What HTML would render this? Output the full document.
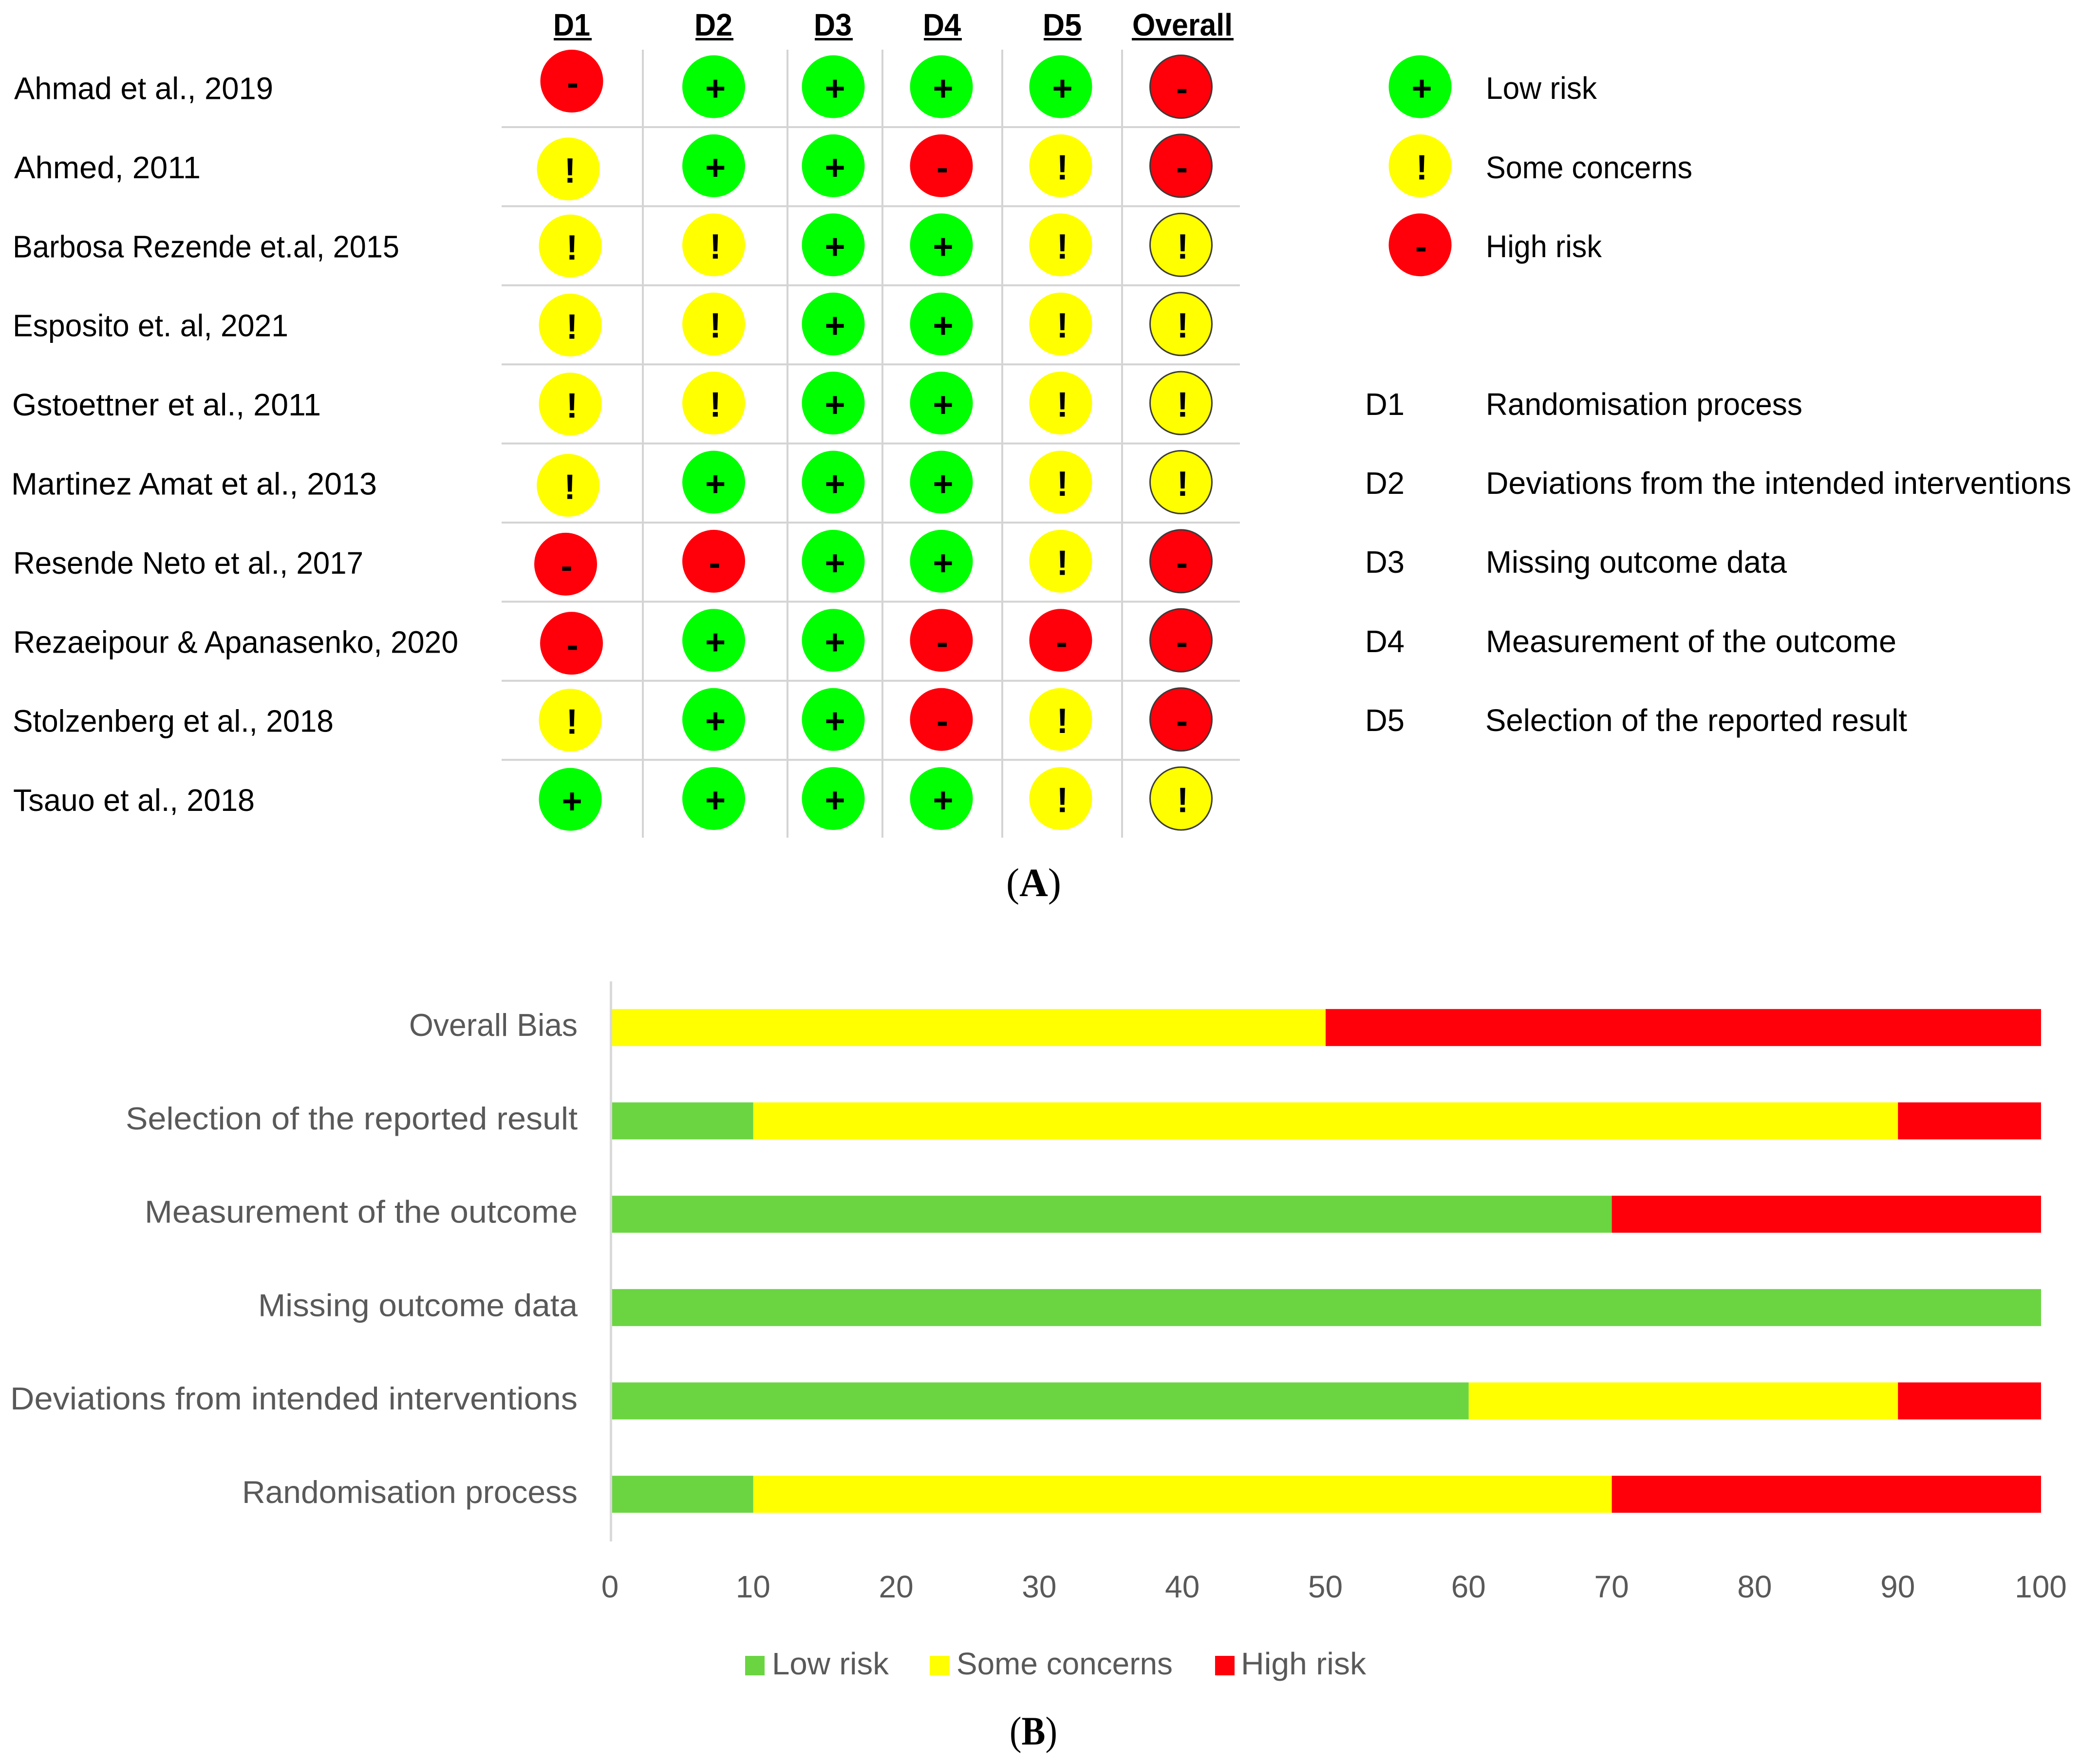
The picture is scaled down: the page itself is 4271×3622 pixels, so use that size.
<!DOCTYPE html>
<html lang="en">
<head>
<meta charset="utf-8">
<title>Risk of bias summary</title>
<style>
html,body{margin:0;padding:0;background:#fff;}
svg{display:block;font-family:"Liberation Sans",sans-serif;}
</style>
</head>
<body>
<svg id="figure" xmlns="http://www.w3.org/2000/svg" width="4271" height="3622" viewBox="0 0 4271 3622">
  <rect x="0" y="0" width="4271" height="3622" fill="#ffffff"/>
  <g id="panel-a">
    <g id="grid"></g>
    <g font-weight="700" font-size="64" fill="#000">
      <text x="1136" y="73" textLength="76" lengthAdjust="spacingAndGlyphs">D1</text>
      <rect x="1137" y="78" width="78" height="5"/>
      <text x="1426" y="73" textLength="78" lengthAdjust="spacingAndGlyphs">D2</text>
      <rect x="1428" y="78" width="78" height="5"/>
      <text x="1671" y="73" textLength="78" lengthAdjust="spacingAndGlyphs">D3</text>
      <rect x="1673" y="78" width="78" height="5"/>
      <text x="1895" y="73" textLength="78" lengthAdjust="spacingAndGlyphs">D4</text>
      <rect x="1897" y="78" width="78" height="5"/>
      <text x="2141" y="73" textLength="80" lengthAdjust="spacingAndGlyphs">D5</text>
      <rect x="2143" y="78" width="78" height="5"/>
      <text x="2325" y="73" textLength="206" lengthAdjust="spacingAndGlyphs">Overall</text>
      <rect x="2324" y="78" width="209" height="5"/>
    </g>
    <g id="study-labels"></g>
    <g id="cells"></g>
    <g id="key-symbols"></g>
    <g font-size="64" fill="#000">
      <text x="3051" y="203" textLength="228" lengthAdjust="spacingAndGlyphs">Low risk</text>
      <text x="3051" y="366" textLength="424" lengthAdjust="spacingAndGlyphs">Some concerns</text>
      <text x="3051" y="528" textLength="238" lengthAdjust="spacingAndGlyphs">High risk</text>
    </g>
    <g font-size="64" fill="#000">
      <text x="2803" y="852" textLength="81" lengthAdjust="spacingAndGlyphs">D1</text>
      <text x="3051" y="852" textLength="650" lengthAdjust="spacingAndGlyphs">Randomisation process</text>
      <text x="2803" y="1014" textLength="81" lengthAdjust="spacingAndGlyphs">D2</text>
      <text x="3051" y="1014" textLength="1202" lengthAdjust="spacingAndGlyphs">Deviations from the intended interventions</text>
      <text x="2803" y="1176" textLength="81" lengthAdjust="spacingAndGlyphs">D3</text>
      <text x="3051" y="1176" textLength="618" lengthAdjust="spacingAndGlyphs">Missing outcome data</text>
      <text x="2803" y="1339" textLength="81" lengthAdjust="spacingAndGlyphs">D4</text>
      <text x="3051" y="1339" textLength="843" lengthAdjust="spacingAndGlyphs">Measurement of the outcome</text>
      <text x="2803" y="1501" textLength="81" lengthAdjust="spacingAndGlyphs">D5</text>
      <text x="3050" y="1501" textLength="866" lengthAdjust="spacingAndGlyphs">Selection of the reported result</text>
    </g>
    <text x="2066" y="1840" font-family="'Liberation Serif',serif" font-size="83" fill="#000" textLength="113" lengthAdjust="spacingAndGlyphs">(<tspan font-weight="700">A</tspan>)</text>
  </g>
  <g id="panel-b">
    <g id="bars"></g>
    <rect id="y-axis" x="1252" y="2015" width="5" height="1150" fill="#d9d9d9"/>
    <g id="category-labels"></g>
    <g id="tick-labels"></g>
    <g font-size="64" fill="#595959">
      <rect x="1530" y="3400" width="40" height="40" fill="#6bd541"/>
      <text x="1585" y="3438" textLength="240" lengthAdjust="spacingAndGlyphs">Low risk</text>
      <rect x="1909" y="3400" width="41" height="40" fill="#ffff00"/>
      <text x="1964" y="3438" textLength="444" lengthAdjust="spacingAndGlyphs">Some concerns</text>
      <rect x="2495" y="3400" width="40" height="40" fill="#ff000a"/>
      <text x="2548" y="3438" textLength="257" lengthAdjust="spacingAndGlyphs">High risk</text>
    </g>
    <text x="2073" y="3582" font-family="'Liberation Serif',serif" font-size="83" fill="#000" textLength="98" lengthAdjust="spacingAndGlyphs">(<tspan font-weight="700">B</tspan>)</text>
  </g>
</svg>
<script>
// ---- Panel A data ----
const studies = ["Ahmad et al., 2019","Ahmed, 2011","Barbosa Rezende et.al, 2015","Esposito et. al, 2021","Gstoettner et al., 2011","Martinez Amat et al., 2013","Resende Neto et al., 2017","Rezaeipour & Apanasenko, 2020","Stolzenberg et al., 2018","Tsauo et al., 2018"];
const d1Judgements = ["high","some","some","some","some","some","high","high","some","low"];
const d2Judgements = ["low","low","some","some","some","low","high","low","low","low"];
const d3Judgements = ["low","low","low","low","low","low","low","low","low","low"];
const d4Judgements = ["low","high","low","low","low","low","low","high","high","low"];
const d5Judgements = ["low","some","some","some","some","some","some","high","some","some"];
const overallJudgements = ["high","high","some","some","some","some","high","high","high","some"];
const keyJudgements = ["low","some","high"];

// ---- Panel B data ----
const categories = ["Overall Bias","Selection of the reported result","Measurement of the outcome","Missing outcome data","Deviations from intended interventions","Randomisation process"];
const lowRisk = [0,10,70,100,60,10];
const someConcerns = [50,80,0,0,30,60];
const highRisk = [50,10,30,0,10,30];
const xTicks = [0,10,20,30,40,50,60,70,80,90,100];

// ---- Layout (not data) ----
const SVGNS = "http://www.w3.org/2000/svg";
const rowY = i => 178 + 162.4 * i;
const columnX = {d2:1465.5, d3:1711, d4:1933, d5:2178, overall:2425};
const d1Nudge = {
  x:[1174,1167,1171,1171,1171,1166.6,1161.5,1173.5,1171,1171],
  y:[-11.5,6.5,2.2,2.2,2,6.5,6,6,1.5,1.7]
};
const studyLabelStart = [29,29,26,26,25,23,27,27,26,27];
const studyLabelEnd = [561,412,820,592,659,774,746,941,685,523];
const categoryLabelStart = [840,258,297,530,21,497];
const fillFor = {low:"#00ff00", some:"#ffff00", high:"#ff000a"};
const glyphFor = {low:"+", some:"!", high:"-"};
const barColor = {low:"#6bd541", some:"#ffff00", high:"#ff000a"};
const xScale = v => 1253 + v * 29.38;
const bandTop = 2014, bandH = 1150 / 6, barH = 76;

function make(tag, attrs, parent){
  const el = document.createElementNS(SVGNS, tag);
  for (const k in attrs) el.setAttribute(k, attrs[k]);
  parent.appendChild(el);
  return el;
}

function drawSymbol(parent, cx, cy, judgement, outlined, name){
  const g = make("g", {}, parent);
  
  
  const c = make("ellipse", {cx:cx, cy:cy, rx:outlined ? 63.5 : 64.5, ry:outlined ? 64.5 : 64.5, fill:fillFor[judgement]}, g);
  
  
  if (outlined){
    c.setAttribute("stroke", "#3a3a3a");
    c.setAttribute("stroke-width", "3");
  }
  const t = make("text", {x:cx + (judgement === "high" ? 2 : 3.5), y:cy + 28, "text-anchor":"middle", "font-size":72, "font-weight":700, fill:"#000"}, g);
  t.textContent = glyphFor[judgement];
  
  
}

// grid lines
const grid = document.getElementById("grid");
[1320,1617,1812,2058,2304].forEach((x, i) => {
  const l = make("rect", {x:x - 2, y:102, width:4, height:1618, fill:"#d4d4d4"}, grid);
  
  
});
for (let i = 0; i < studies.length - 1; i++){
  const l = make("rect", {x:1030, y:261 + 162.4 * i - 2, width:1516, height:4, fill:"#d4d4d4"}, grid);
  
  
}

// study labels
const studyGroup = document.getElementById("study-labels");
studies.forEach((s, i) => {
  const t = make("text", {x:studyLabelStart[i], y:203.5 + 162.4 * i, "font-size":64, fill:"#000", textLength:studyLabelEnd[i] - studyLabelStart[i], lengthAdjust:"spacingAndGlyphs"}, studyGroup);
  t.textContent = s;
  
  
});

// judgement cells
const cells = document.getElementById("cells");
studies.forEach((s, i) => {
  drawSymbol(cells, d1Nudge.x[i], rowY(i) + d1Nudge.y[i], d1Judgements[i], false, 'cell-d1');
  drawSymbol(cells, columnX.d2, rowY(i), d2Judgements[i], false, 'cell-d2');
  drawSymbol(cells, columnX.d3, rowY(i), d3Judgements[i], false, 'cell-d3');
  drawSymbol(cells, columnX.d4, rowY(i), d4Judgements[i], false, 'cell-d4');
  drawSymbol(cells, columnX.d5, rowY(i), d5Judgements[i], false, 'cell-d5');
  drawSymbol(cells, columnX.overall, rowY(i), overallJudgements[i], true, 'cell-overall');
});

// key symbols
const keyGroup = document.getElementById("key-symbols");
keyJudgements.forEach((j, i) => {
  drawSymbol(keyGroup, 2916, rowY(i), j, false, 'key-symbol-' + j);
});

// stacked bars
const bars = document.getElementById("bars");
categories.forEach((c, i) => {
  const y = bandTop + bandH * (i + 0.5) - barH / 2;
  let running = 0;
  [["low", lowRisk[i]], ["some", someConcerns[i]], ["high", highRisk[i]]].forEach(pair => {
    const v = pair[1];
    if (v > 0){
      const r = make("rect", {x:xScale(running), y:y, width:xScale(running + v) - xScale(running), height:barH, fill:barColor[pair[0]]}, bars);
      
      
    }
    running += v;
  });
});

// category labels
const catGroup = document.getElementById("category-labels");
categories.forEach((c, i) => {
  const t = make("text", {x:categoryLabelStart[i], y:2127 + 191.8 * i, "font-size":65, fill:"#595959", textLength:1186 - categoryLabelStart[i], lengthAdjust:"spacingAndGlyphs"}, catGroup);
  t.textContent = c;
  
  
});

// tick labels
const tickGroup = document.getElementById("tick-labels");
xTicks.forEach(v => {
  const t = make("text", {x:xScale(v) - 0.5, y:3280, "text-anchor":"middle", "font-size":64, fill:"#595959"}, tickGroup);
  t.textContent = String(v);
  
  
});
</script>
</body>
</html>
